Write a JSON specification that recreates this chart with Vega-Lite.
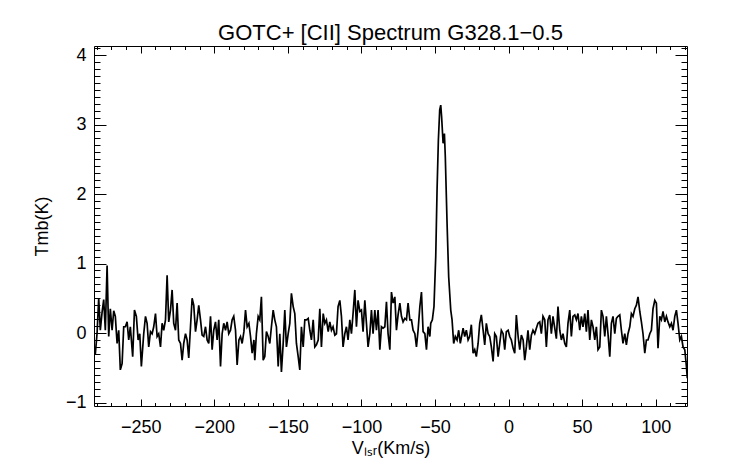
{
  "$schema": "https://vega.github.io/schema/vega-lite/v6.json",
  "width": 593,
  "height": 360,
  "autosize": "none",
  "padding": {"left": 94, "top": 46, "right": 55, "bottom": 58},
  "background": "white",
  "config": {
    "view": {"stroke": null},
    "font": "Liberation Sans",
    "axis": {
      "grid": false,
      "domainColor": "black",
      "domainWidth": 1,
      "tickColor": "black",
      "tickWidth": 1,
      "labelColor": "black",
      "titleColor": "black",
      "labelFont": "Liberation Sans",
      "titleFont": "Liberation Sans",
      "labelFontSize": 18,
      "titleFontSize": 18,
      "titleFontWeight": "normal",
      "labelOverlap": false,
      "labelBound": false,
      "labelFlush": false
    }
  },
  "title": {
    "text": "GOTC+ [CII] Spectrum G328.1−0.5",
    "font": "Liberation Sans",
    "fontSize": 22,
    "fontWeight": "normal",
    "color": "black",
    "offset": -6
  },
  "data": {
    "values": [
      {"vlsr": -282.0, "tmb": -0.20}, {"vlsr": -280.9, "tmb": -0.30}, {"vlsr": -279.7, "tmb": 0.00}, {"vlsr": -278.6, "tmb": 0.50},
      {"vlsr": -277.5, "tmb": 0.04}, {"vlsr": -276.3, "tmb": 0.30}, {"vlsr": -275.2, "tmb": 0.48}, {"vlsr": -274.1, "tmb": 0.04},
      {"vlsr": -272.9, "tmb": 0.97}, {"vlsr": -271.8, "tmb": -0.05}, {"vlsr": -270.7, "tmb": 0.35}, {"vlsr": -269.5, "tmb": 0.04},
      {"vlsr": -268.4, "tmb": 0.32}, {"vlsr": -267.3, "tmb": 0.24}, {"vlsr": -266.1, "tmb": -0.15}, {"vlsr": -265.0, "tmb": 0.04},
      {"vlsr": -263.9, "tmb": -0.53}, {"vlsr": -262.7, "tmb": -0.44}, {"vlsr": -261.6, "tmb": 0.09}, {"vlsr": -260.5, "tmb": 0.09},
      {"vlsr": -259.3, "tmb": 0.16}, {"vlsr": -258.2, "tmb": -0.10}, {"vlsr": -257.1, "tmb": 0.09}, {"vlsr": -255.5, "tmb": -0.34},
      {"vlsr": -254.3, "tmb": 0.33}, {"vlsr": -253.0, "tmb": 0.24}, {"vlsr": -251.8, "tmb": -0.10}, {"vlsr": -250.7, "tmb": -0.01},
      {"vlsr": -249.6, "tmb": -0.48}, {"vlsr": -248.0, "tmb": -0.01}, {"vlsr": -246.8, "tmb": 0.24}, {"vlsr": -245.7, "tmb": 0.14},
      {"vlsr": -244.6, "tmb": -0.20}, {"vlsr": -243.4, "tmb": 0.02}, {"vlsr": -242.3, "tmb": -0.01}, {"vlsr": -241.2, "tmb": 0.09},
      {"vlsr": -240.0, "tmb": 0.28}, {"vlsr": -238.9, "tmb": -0.05}, {"vlsr": -237.8, "tmb": -0.01}, {"vlsr": -236.6, "tmb": -0.20},
      {"vlsr": -235.5, "tmb": 0.14}, {"vlsr": -234.4, "tmb": 0.04}, {"vlsr": -233.2, "tmb": 0.19}, {"vlsr": -232.1, "tmb": 0.83},
      {"vlsr": -231.0, "tmb": 0.16}, {"vlsr": -229.8, "tmb": 0.33}, {"vlsr": -228.7, "tmb": 0.62}, {"vlsr": -227.6, "tmb": 0.14},
      {"vlsr": -226.4, "tmb": 0.04}, {"vlsr": -225.3, "tmb": 0.43}, {"vlsr": -224.2, "tmb": -0.10}, {"vlsr": -223.0, "tmb": -0.15},
      {"vlsr": -221.9, "tmb": -0.39}, {"vlsr": -220.8, "tmb": -0.15}, {"vlsr": -219.6, "tmb": -0.01}, {"vlsr": -218.5, "tmb": -0.10},
      {"vlsr": -217.4, "tmb": -0.36}, {"vlsr": -216.2, "tmb": 0.09}, {"vlsr": -215.1, "tmb": 0.50}, {"vlsr": -214.0, "tmb": 0.40},
      {"vlsr": -212.8, "tmb": 0.02}, {"vlsr": -211.7, "tmb": 0.19}, {"vlsr": -210.6, "tmb": 0.40}, {"vlsr": -209.4, "tmb": 0.19},
      {"vlsr": -208.3, "tmb": -0.03}, {"vlsr": -207.2, "tmb": -0.05}, {"vlsr": -206.0, "tmb": 0.09}, {"vlsr": -204.9, "tmb": -0.10},
      {"vlsr": -203.8, "tmb": -0.15}, {"vlsr": -202.6, "tmb": 0.24}, {"vlsr": -201.5, "tmb": -0.24}, {"vlsr": -200.4, "tmb": 0.04},
      {"vlsr": -199.2, "tmb": 0.16}, {"vlsr": -198.1, "tmb": -0.10}, {"vlsr": -197.0, "tmb": 0.19}, {"vlsr": -195.8, "tmb": -0.48},
      {"vlsr": -194.7, "tmb": -0.01}, {"vlsr": -193.6, "tmb": 0.14}, {"vlsr": -192.4, "tmb": 0.04}, {"vlsr": -191.3, "tmb": 0.16},
      {"vlsr": -190.2, "tmb": -0.01}, {"vlsr": -189.0, "tmb": 0.04}, {"vlsr": -187.9, "tmb": 0.19}, {"vlsr": -186.8, "tmb": 0.24},
      {"vlsr": -185.6, "tmb": 0.04}, {"vlsr": -184.5, "tmb": -0.46}, {"vlsr": -183.3, "tmb": -0.10}, {"vlsr": -182.2, "tmb": -0.05},
      {"vlsr": -181.1, "tmb": -0.15}, {"vlsr": -179.9, "tmb": 0.02}, {"vlsr": -178.8, "tmb": 0.33}, {"vlsr": -177.7, "tmb": 0.09},
      {"vlsr": -176.5, "tmb": 0.14}, {"vlsr": -175.4, "tmb": -0.05}, {"vlsr": -174.3, "tmb": -0.29}, {"vlsr": -173.1, "tmb": -0.10},
      {"vlsr": -172.5, "tmb": -0.39}, {"vlsr": -171.4, "tmb": -0.01}, {"vlsr": -170.2, "tmb": 0.24}, {"vlsr": -169.1, "tmb": 0.19},
      {"vlsr": -168.0, "tmb": 0.52}, {"vlsr": -166.8, "tmb": -0.39}, {"vlsr": -165.7, "tmb": -0.34}, {"vlsr": -164.6, "tmb": 0.02},
      {"vlsr": -163.4, "tmb": -0.05}, {"vlsr": -162.3, "tmb": -0.15}, {"vlsr": -161.2, "tmb": 0.09}, {"vlsr": -160.0, "tmb": 0.33},
      {"vlsr": -158.9, "tmb": 0.19}, {"vlsr": -157.8, "tmb": 0.09}, {"vlsr": -156.6, "tmb": -0.48}, {"vlsr": -155.5, "tmb": -0.01},
      {"vlsr": -154.4, "tmb": -0.56}, {"vlsr": -153.2, "tmb": -0.15}, {"vlsr": -152.1, "tmb": 0.33}, {"vlsr": -151.0, "tmb": -0.20},
      {"vlsr": -149.8, "tmb": -0.01}, {"vlsr": -148.7, "tmb": 0.14}, {"vlsr": -147.6, "tmb": 0.57}, {"vlsr": -146.4, "tmb": 0.38},
      {"vlsr": -145.3, "tmb": 0.28}, {"vlsr": -144.2, "tmb": -0.15}, {"vlsr": -143.0, "tmb": -0.34}, {"vlsr": -141.9, "tmb": -0.53},
      {"vlsr": -140.8, "tmb": 0.09}, {"vlsr": -139.6, "tmb": -0.20}, {"vlsr": -138.5, "tmb": 0.19}, {"vlsr": -137.4, "tmb": 0.19},
      {"vlsr": -136.2, "tmb": 0.21}, {"vlsr": -135.1, "tmb": 0.04}, {"vlsr": -134.0, "tmb": -0.10}, {"vlsr": -132.8, "tmb": 0.19},
      {"vlsr": -131.7, "tmb": -0.20}, {"vlsr": -130.6, "tmb": -0.17}, {"vlsr": -129.4, "tmb": -0.10}, {"vlsr": -128.3, "tmb": 0.35},
      {"vlsr": -127.2, "tmb": -0.20}, {"vlsr": -126.0, "tmb": 0.28}, {"vlsr": -124.9, "tmb": 0.14}, {"vlsr": -123.8, "tmb": 0.19},
      {"vlsr": -122.6, "tmb": 0.02}, {"vlsr": -121.5, "tmb": 0.16}, {"vlsr": -120.4, "tmb": 0.04}, {"vlsr": -119.3, "tmb": 0.09},
      {"vlsr": -118.1, "tmb": -0.03}, {"vlsr": -117.0, "tmb": -0.01}, {"vlsr": -115.9, "tmb": 0.38}, {"vlsr": -114.7, "tmb": 0.47},
      {"vlsr": -113.6, "tmb": 0.24}, {"vlsr": -112.5, "tmb": -0.20}, {"vlsr": -111.3, "tmb": -0.01}, {"vlsr": -110.2, "tmb": 0.09},
      {"vlsr": -109.1, "tmb": -0.10}, {"vlsr": -107.9, "tmb": 0.19}, {"vlsr": -106.8, "tmb": -0.01}, {"vlsr": -105.7, "tmb": 0.28},
      {"vlsr": -104.5, "tmb": 0.62}, {"vlsr": -103.4, "tmb": 0.09}, {"vlsr": -102.3, "tmb": 0.47}, {"vlsr": -101.1, "tmb": 0.31},
      {"vlsr": -100.0, "tmb": 0.33}, {"vlsr": -98.9, "tmb": 0.02}, {"vlsr": -97.7, "tmb": 0.47}, {"vlsr": -96.6, "tmb": 0.14},
      {"vlsr": -95.5, "tmb": -0.20}, {"vlsr": -94.3, "tmb": -0.01}, {"vlsr": -93.2, "tmb": 0.33}, {"vlsr": -92.1, "tmb": -0.01},
      {"vlsr": -90.9, "tmb": 0.33}, {"vlsr": -89.8, "tmb": 0.04}, {"vlsr": -88.7, "tmb": 0.33}, {"vlsr": -87.5, "tmb": -0.24},
      {"vlsr": -86.4, "tmb": 0.09}, {"vlsr": -85.3, "tmb": 0.07}, {"vlsr": -84.1, "tmb": 0.09}, {"vlsr": -83.0, "tmb": 0.45},
      {"vlsr": -81.9, "tmb": -0.01}, {"vlsr": -80.7, "tmb": -0.24}, {"vlsr": -79.6, "tmb": 0.59}, {"vlsr": -78.5, "tmb": 0.43},
      {"vlsr": -77.3, "tmb": 0.52}, {"vlsr": -76.2, "tmb": 0.04}, {"vlsr": -75.1, "tmb": 0.26}, {"vlsr": -73.9, "tmb": 0.43},
      {"vlsr": -72.8, "tmb": 0.24}, {"vlsr": -71.7, "tmb": 0.16}, {"vlsr": -70.5, "tmb": 0.21}, {"vlsr": -69.4, "tmb": 0.19},
      {"vlsr": -68.3, "tmb": 0.43}, {"vlsr": -67.1, "tmb": 0.19}, {"vlsr": -66.0, "tmb": 0.19}, {"vlsr": -64.9, "tmb": 0.04},
      {"vlsr": -63.7, "tmb": -0.01}, {"vlsr": -62.6, "tmb": -0.20}, {"vlsr": -61.5, "tmb": 0.04}, {"vlsr": -60.3, "tmb": 0.38},
      {"vlsr": -59.2, "tmb": 0.59}, {"vlsr": -58.1, "tmb": 0.02}, {"vlsr": -56.9, "tmb": -0.01}, {"vlsr": -55.8, "tmb": -0.24},
      {"vlsr": -54.7, "tmb": 0.09}, {"vlsr": -53.5, "tmb": -0.05}, {"vlsr": -52.9, "tmb": 0.14}, {"vlsr": -51.8, "tmb": 0.19},
      {"vlsr": -50.7, "tmb": 0.38}, {"vlsr": -49.5, "tmb": 1.10}, {"vlsr": -48.6, "tmb": 2.06}, {"vlsr": -47.7, "tmb": 2.78},
      {"vlsr": -46.8, "tmb": 3.21}, {"vlsr": -46.1, "tmb": 3.28}, {"vlsr": -45.5, "tmb": 3.11}, {"vlsr": -44.5, "tmb": 2.73},
      {"vlsr": -43.6, "tmb": 2.87}, {"vlsr": -43.0, "tmb": 2.54}, {"vlsr": -41.8, "tmb": 1.58}, {"vlsr": -40.7, "tmb": 0.81},
      {"vlsr": -39.3, "tmb": 0.33}, {"vlsr": -38.4, "tmb": 0.19}, {"vlsr": -37.3, "tmb": -0.15}, {"vlsr": -36.2, "tmb": -0.05},
      {"vlsr": -35.0, "tmb": -0.10}, {"vlsr": -33.9, "tmb": 0.04}, {"vlsr": -32.8, "tmb": -0.15}, {"vlsr": -30.9, "tmb": 0.07},
      {"vlsr": -29.8, "tmb": -0.05}, {"vlsr": -28.7, "tmb": 0.04}, {"vlsr": -27.5, "tmb": -0.10}, {"vlsr": -26.4, "tmb": -0.05},
      {"vlsr": -25.3, "tmb": 0.12}, {"vlsr": -24.1, "tmb": -0.29}, {"vlsr": -23.0, "tmb": -0.24}, {"vlsr": -21.9, "tmb": -0.34},
      {"vlsr": -20.7, "tmb": -0.15}, {"vlsr": -19.6, "tmb": 0.14}, {"vlsr": -18.5, "tmb": 0.26}, {"vlsr": -17.3, "tmb": 0.04},
      {"vlsr": -16.2, "tmb": -0.17}, {"vlsr": -15.1, "tmb": 0.14}, {"vlsr": -13.9, "tmb": -0.01}, {"vlsr": -12.8, "tmb": -0.05},
      {"vlsr": -11.7, "tmb": -0.20}, {"vlsr": -10.5, "tmb": -0.41}, {"vlsr": -9.4, "tmb": -0.01}, {"vlsr": -8.3, "tmb": -0.05},
      {"vlsr": -7.1, "tmb": -0.34}, {"vlsr": -6.0, "tmb": -0.15}, {"vlsr": -4.9, "tmb": 0.04}, {"vlsr": -3.7, "tmb": -0.01},
      {"vlsr": -2.6, "tmb": -0.24}, {"vlsr": -1.5, "tmb": 0.02}, {"vlsr": -0.3, "tmb": 0.04}, {"vlsr": 0.8, "tmb": -0.05},
      {"vlsr": 1.9, "tmb": -0.10}, {"vlsr": 3.1, "tmb": -0.22}, {"vlsr": 4.2, "tmb": -0.29}, {"vlsr": 5.3, "tmb": 0.26},
      {"vlsr": 6.5, "tmb": -0.05}, {"vlsr": 7.6, "tmb": -0.24}, {"vlsr": 8.7, "tmb": -0.03}, {"vlsr": 9.9, "tmb": -0.10},
      {"vlsr": 11.0, "tmb": -0.39}, {"vlsr": 12.1, "tmb": -0.20}, {"vlsr": 13.2, "tmb": 0.04}, {"vlsr": 14.4, "tmb": -0.24},
      {"vlsr": 15.5, "tmb": -0.03}, {"vlsr": 16.6, "tmb": 0.04}, {"vlsr": 17.8, "tmb": -0.01}, {"vlsr": 18.9, "tmb": 0.07},
      {"vlsr": 20.0, "tmb": 0.14}, {"vlsr": 21.2, "tmb": 0.16}, {"vlsr": 22.3, "tmb": -0.01}, {"vlsr": 23.4, "tmb": 0.24},
      {"vlsr": 24.6, "tmb": 0.19}, {"vlsr": 25.7, "tmb": -0.20}, {"vlsr": 26.8, "tmb": 0.19}, {"vlsr": 28.0, "tmb": 0.26},
      {"vlsr": 29.1, "tmb": -0.01}, {"vlsr": 30.2, "tmb": 0.24}, {"vlsr": 31.4, "tmb": 0.07}, {"vlsr": 32.5, "tmb": -0.08},
      {"vlsr": 33.6, "tmb": 0.38}, {"vlsr": 34.8, "tmb": 0.04}, {"vlsr": 35.9, "tmb": -0.10}, {"vlsr": 37.0, "tmb": -0.01},
      {"vlsr": 38.2, "tmb": -0.15}, {"vlsr": 39.3, "tmb": -0.20}, {"vlsr": 40.4, "tmb": 0.14}, {"vlsr": 41.6, "tmb": 0.33},
      {"vlsr": 42.7, "tmb": -0.05}, {"vlsr": 43.8, "tmb": 0.24}, {"vlsr": 45.0, "tmb": 0.26}, {"vlsr": 46.1, "tmb": 0.19},
      {"vlsr": 47.2, "tmb": 0.28}, {"vlsr": 48.4, "tmb": 0.04}, {"vlsr": 49.5, "tmb": 0.24}, {"vlsr": 50.6, "tmb": 0.09},
      {"vlsr": 51.8, "tmb": 0.28}, {"vlsr": 52.9, "tmb": 0.02}, {"vlsr": 54.0, "tmb": 0.33}, {"vlsr": 55.2, "tmb": -0.10},
      {"vlsr": 56.3, "tmb": 0.19}, {"vlsr": 57.4, "tmb": 0.09}, {"vlsr": 58.6, "tmb": -0.10}, {"vlsr": 59.7, "tmb": 0.09},
      {"vlsr": 60.8, "tmb": -0.24}, {"vlsr": 62.0, "tmb": -0.20}, {"vlsr": 63.1, "tmb": 0.33}, {"vlsr": 64.2, "tmb": 0.24},
      {"vlsr": 65.4, "tmb": -0.05}, {"vlsr": 66.5, "tmb": 0.24}, {"vlsr": 67.6, "tmb": -0.01}, {"vlsr": 68.8, "tmb": -0.34},
      {"vlsr": 69.9, "tmb": 0.14}, {"vlsr": 71.0, "tmb": 0.24}, {"vlsr": 72.2, "tmb": -0.01}, {"vlsr": 73.3, "tmb": 0.21},
      {"vlsr": 74.4, "tmb": 0.24}, {"vlsr": 75.6, "tmb": 0.26}, {"vlsr": 76.7, "tmb": 0.04}, {"vlsr": 77.8, "tmb": -0.15},
      {"vlsr": 79.0, "tmb": -0.01}, {"vlsr": 80.1, "tmb": -0.17}, {"vlsr": 81.2, "tmb": -0.01}, {"vlsr": 82.4, "tmb": 0.09},
      {"vlsr": 83.5, "tmb": 0.28}, {"vlsr": 84.6, "tmb": 0.24}, {"vlsr": 85.8, "tmb": 0.35}, {"vlsr": 86.9, "tmb": 0.40},
      {"vlsr": 88.0, "tmb": 0.52}, {"vlsr": 89.2, "tmb": 0.31}, {"vlsr": 90.3, "tmb": 0.16}, {"vlsr": 91.4, "tmb": -0.01},
      {"vlsr": 92.6, "tmb": -0.29}, {"vlsr": 93.7, "tmb": -0.10}, {"vlsr": 94.8, "tmb": -0.10}, {"vlsr": 96.0, "tmb": -0.01},
      {"vlsr": 97.1, "tmb": 0.04}, {"vlsr": 98.2, "tmb": 0.35}, {"vlsr": 99.4, "tmb": 0.47}, {"vlsr": 100.5, "tmb": 0.43},
      {"vlsr": 101.6, "tmb": -0.22}, {"vlsr": 102.8, "tmb": 0.24}, {"vlsr": 103.9, "tmb": 0.19}, {"vlsr": 105.0, "tmb": 0.31},
      {"vlsr": 106.2, "tmb": 0.16}, {"vlsr": 107.3, "tmb": 0.24}, {"vlsr": 108.4, "tmb": 0.16}, {"vlsr": 109.6, "tmb": 0.09},
      {"vlsr": 110.7, "tmb": 0.14}, {"vlsr": 111.8, "tmb": 0.04}, {"vlsr": 113.0, "tmb": 0.24}, {"vlsr": 114.1, "tmb": 0.33},
      {"vlsr": 115.2, "tmb": 0.14}, {"vlsr": 116.4, "tmb": -0.10}, {"vlsr": 117.5, "tmb": -0.05}, {"vlsr": 118.6, "tmb": -0.20},
      {"vlsr": 119.8, "tmb": -0.24}, {"vlsr": 120.9, "tmb": -0.48}, {"vlsr": 121.5, "tmb": -0.65}
    ]
  },
  "layer": [
    {
      "mark": {"type": "line", "color": "black", "strokeWidth": 1.7, "clip": true},
      "encoding": {
        "x": {
          "field": "vlsr",
          "type": "quantitative",
          "scale": {"domain": [-281.8, 121.3], "nice": false, "zero": false},
          "axis": {
            "orient": "bottom",
            "title": "Vₗₛᵣ(Km/s)",
            "format": ".0f",
            "values": [-280, -270, -260, -250, -240, -230, -220, -210, -200, -190, -180, -170, -160, -150, -140, -130, -120, -110, -100, -90, -80, -70, -60, -50, -40, -30, -20, -10, 0, 10, 20, 30, 40, 50, 60, 70, 80, 90, 100, 110, 120],
            "tickSize": {"condition": {"test": "datum.value % 50 === 0", "value": -7}, "value": -3.5},
            "labelExpr": "datum.value % 50 === 0 ? datum.label : ''",
            "labelPadding": 19,
            "titlePadding": 0
          }
        },
        "y": {
          "field": "tmb",
          "type": "quantitative",
          "scale": {"domain": [-1.05, 4.13], "nice": false, "zero": false},
          "axis": {
            "orient": "left",
            "title": "Tmb(K)",
            "format": ".0f",
            "values": [-1, -0.9, -0.8, -0.7, -0.6, -0.5, -0.4, -0.3, -0.2, -0.1, 0, 0.1, 0.2, 0.3, 0.4, 0.5, 0.6, 0.7, 0.8, 0.9, 1, 1.1, 1.2, 1.3, 1.4, 1.5, 1.6, 1.7, 1.8, 1.9, 2, 2.1, 2.2, 2.3, 2.4, 2.5, 2.6, 2.7, 2.8, 2.9, 3, 3.1, 3.2, 3.3, 3.4, 3.5, 3.6, 3.7, 3.8, 3.9, 4, 4.1],
            "tickSize": {"condition": {"test": "abs(datum.value - round(datum.value)) < 0.001", "value": -12}, "value": -6},
            "labelExpr": "abs(datum.value - round(datum.value)) < 0.001 ? datum.label : ''",
            "labelPadding": 20,
            "titlePadding": 14
          }
        }
      }
    },
    {
      "mark": {"type": "line", "opacity": 0},
      "encoding": {
        "x": {
          "field": "vlsr",
          "type": "quantitative",
          "scale": {"domain": [-281.8, 121.3], "nice": false, "zero": false},
          "axis": {
            "orient": "top",
            "title": null,
            "labels": false,
            "values": [-280, -270, -260, -250, -240, -230, -220, -210, -200, -190, -180, -170, -160, -150, -140, -130, -120, -110, -100, -90, -80, -70, -60, -50, -40, -30, -20, -10, 0, 10, 20, 30, 40, 50, 60, 70, 80, 90, 100, 110, 120],
            "tickSize": {"condition": {"test": "datum.value % 50 === 0", "value": -7}, "value": -3.5}
          }
        },
        "y": {
          "field": "tmb",
          "type": "quantitative",
          "scale": {"domain": [-1.05, 4.13], "nice": false, "zero": false},
          "axis": {
            "orient": "right",
            "title": null,
            "labels": false,
            "values": [-1, -0.9, -0.8, -0.7, -0.6, -0.5, -0.4, -0.3, -0.2, -0.1, 0, 0.1, 0.2, 0.3, 0.4, 0.5, 0.6, 0.7, 0.8, 0.9, 1, 1.1, 1.2, 1.3, 1.4, 1.5, 1.6, 1.7, 1.8, 1.9, 2, 2.1, 2.2, 2.3, 2.4, 2.5, 2.6, 2.7, 2.8, 2.9, 3, 3.1, 3.2, 3.3, 3.4, 3.5, 3.6, 3.7, 3.8, 3.9, 4, 4.1],
            "tickSize": {"condition": {"test": "abs(datum.value - round(datum.value)) < 0.001", "value": -12}, "value": -6}
          }
        }
      }
    }
  ],
  "resolve": {"axis": {"x": "independent", "y": "independent"}}
}
